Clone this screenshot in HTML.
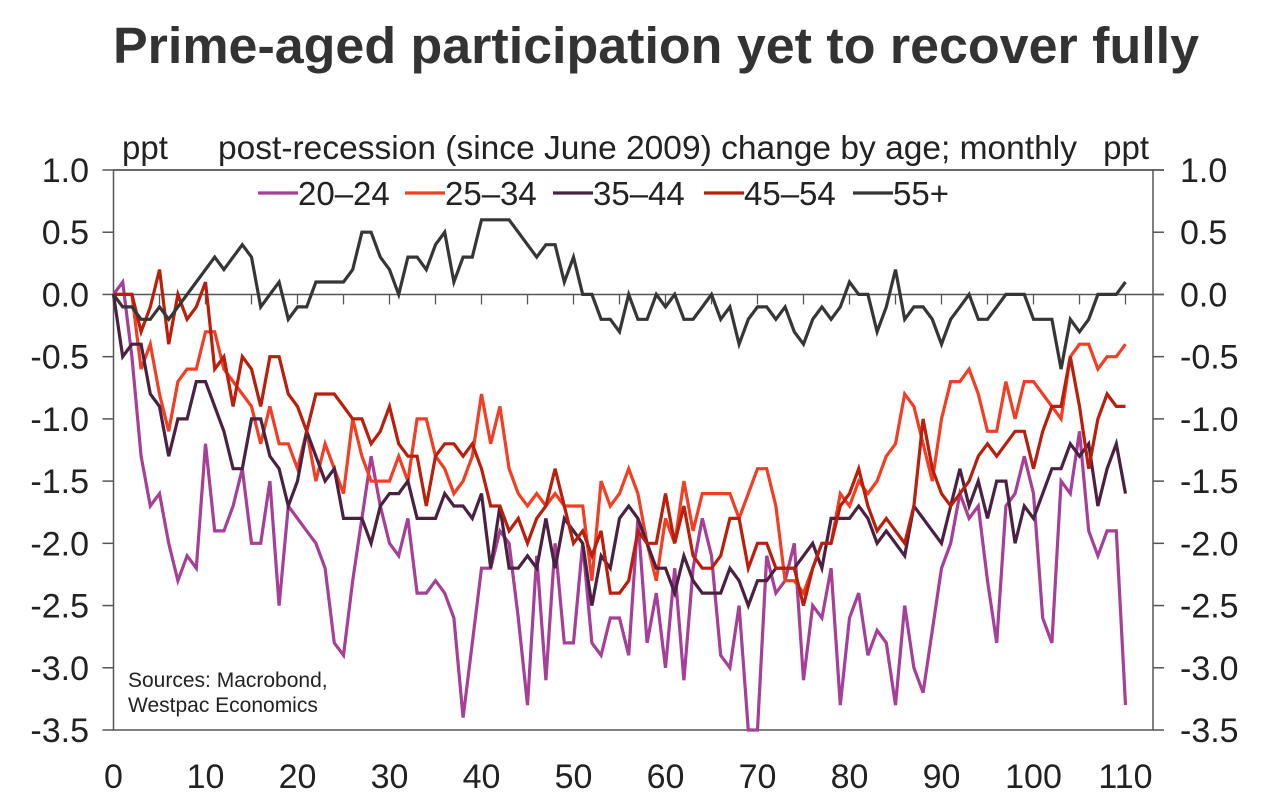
<!DOCTYPE html>
<html><head><meta charset="utf-8"><style>
body{margin:0;background:#fff;}
svg{display:block;font-family:"Liberation Sans",Arial,sans-serif;}
</style></head><body>
<svg id="chart" width="1266" height="803" viewBox="0 0 1266 803" xmlns="http://www.w3.org/2000/svg">
<text x="656" y="63" text-anchor="middle" font-size="51" font-weight="bold" fill="#333" textLength="1086" lengthAdjust="spacingAndGlyphs">Prime-aged participation yet to recover fully</text>
<text x="122" y="159" font-size="33" fill="#222">ppt</text>
<text x="218" y="159" font-size="33" fill="#222" textLength="859" lengthAdjust="spacingAndGlyphs">post-recession (since June 2009) change by age; monthly</text>
<text x="1149" y="159" text-anchor="end" font-size="33" fill="#222">ppt</text>
<g id="axes"></g>
<g id="series"></g>
<g id="legend"></g>
<text x="128" y="687" font-size="21" fill="#222">Sources: Macrobond,</text>
<text x="128" y="712" font-size="21" fill="#222">Westpac Economics</text>
</svg>
<script>
const months = Array.from({length:111},(_, i)=>i);
const yTicks = [1.0,0.5,0.0,-0.5,-1.0,-1.5,-2.0,-2.5,-3.0,-3.5];
const xTicks = [0,10,20,30,40,50,60,70,80,90,100,110];
const s2024 = [0,0.1,-0.5,-1.3,-1.7,-1.6,-2.0,-2.3,-2.1,-2.2,-1.2,-1.9,-1.9,-1.7,-1.4,-2.0,-2.0,-1.5,-2.5,-1.7,-1.8,-1.9,-2.0,-2.2,-2.8,-2.9,-2.3,-1.8,-1.3,-1.7,-2.0,-2.1,-1.8,-2.4,-2.4,-2.3,-2.4,-2.6,-3.4,-2.8,-2.2,-2.2,-1.9,-2.0,-2.6,-3.3,-2.1,-3.1,-2.0,-2.8,-2.8,-2.0,-2.8,-2.9,-2.6,-2.6,-2.9,-1.8,-2.8,-2.4,-3.0,-2.2,-3.1,-2.2,-1.8,-2.1,-2.9,-3.0,-2.5,-3.5,-3.5,-2.1,-2.4,-2.3,-2.0,-3.1,-2.5,-2.6,-2.2,-3.3,-2.6,-2.4,-2.9,-2.7,-2.8,-3.3,-2.5,-3.0,-3.2,-2.7,-2.2,-2.0,-1.6,-1.8,-1.7,-2.3,-2.8,-1.7,-1.6,-1.3,-1.6,-2.6,-2.8,-1.5,-1.6,-1.1,-1.9,-2.1,-1.9,-1.9,-3.3];
const s2534 = [0,0,0,-0.6,-0.4,-0.8,-1.1,-0.7,-0.6,-0.6,-0.3,-0.3,-0.6,-0.7,-0.8,-0.9,-1.2,-0.9,-1.2,-1.2,-1.4,-1.1,-1.5,-1.2,-1.4,-1.6,-1.0,-1.3,-1.5,-1.5,-1.5,-1.3,-1.5,-1.0,-1.0,-1.3,-1.4,-1.6,-1.5,-1.3,-0.8,-1.2,-0.9,-1.4,-1.6,-1.7,-1.6,-1.7,-1.6,-1.7,-1.7,-1.7,-2.3,-1.5,-1.7,-1.6,-1.4,-1.6,-2.0,-2.3,-1.8,-2.0,-1.5,-1.9,-1.6,-1.6,-1.6,-1.6,-1.8,-1.6,-1.4,-1.4,-1.7,-2.3,-2.3,-2.4,-2.2,-2.0,-2.0,-1.6,-1.7,-1.5,-1.6,-1.5,-1.3,-1.2,-0.8,-0.9,-1.2,-1.5,-1.0,-0.7,-0.7,-0.6,-0.8,-1.1,-1.1,-0.7,-1.0,-0.7,-0.7,-0.8,-0.9,-1.0,-0.5,-0.4,-0.4,-0.6,-0.5,-0.5,-0.4];
const s3544 = [0,-0.5,-0.4,-0.4,-0.8,-0.9,-1.3,-1.0,-1.0,-0.7,-0.7,-0.9,-1.1,-1.4,-1.4,-1.0,-1.0,-1.3,-1.4,-1.7,-1.5,-1.1,-1.3,-1.5,-1.4,-1.8,-1.8,-1.8,-2.0,-1.7,-1.6,-1.6,-1.5,-1.8,-1.8,-1.8,-1.6,-1.7,-1.7,-1.8,-1.6,-2.2,-1.7,-2.2,-2.2,-2.1,-2.2,-1.8,-2.2,-1.8,-1.9,-2.0,-2.5,-2.1,-2.2,-1.8,-1.7,-1.8,-2.0,-2.2,-2.2,-2.4,-2.1,-2.3,-2.4,-2.4,-2.4,-2.2,-2.3,-2.5,-2.3,-2.3,-2.2,-2.2,-2.2,-2.1,-2.0,-2.2,-1.8,-1.8,-1.8,-1.7,-1.8,-2.0,-1.9,-2.0,-2.1,-1.7,-1.8,-1.9,-2.0,-1.7,-1.4,-1.7,-1.5,-1.8,-1.5,-1.5,-2.0,-1.7,-1.8,-1.6,-1.4,-1.4,-1.2,-1.3,-1.2,-1.7,-1.4,-1.2,-1.6];
const s4554 = [0,0,0,-0.3,-0.1,0.2,-0.4,0,-0.2,-0.1,0.1,-0.6,-0.5,-0.9,-0.5,-0.6,-0.9,-0.5,-0.5,-0.8,-0.9,-1.1,-0.8,-0.8,-0.8,-0.9,-1.0,-1.0,-1.2,-1.1,-0.9,-1.2,-1.3,-1.3,-1.7,-1.3,-1.2,-1.2,-1.3,-1.2,-1.4,-1.7,-1.7,-1.9,-1.8,-2.0,-1.8,-1.7,-1.4,-1.7,-2.0,-1.9,-2.1,-1.9,-2.4,-2.4,-2.3,-1.9,-2.0,-2.0,-1.6,-2.0,-1.7,-2.1,-2.2,-2.2,-2.1,-1.8,-1.8,-2.2,-2.0,-2.0,-2.2,-2.2,-2.2,-2.5,-2.2,-2.0,-2.0,-1.7,-1.6,-1.4,-1.7,-1.9,-1.8,-1.9,-2.0,-1.7,-1.0,-1.4,-1.6,-1.7,-1.6,-1.5,-1.3,-1.2,-1.3,-1.2,-1.1,-1.1,-1.4,-1.1,-0.9,-0.9,-0.5,-0.9,-1.4,-1.0,-0.8,-0.9,-0.9];
const s55 = [0,-0.1,-0.1,-0.2,-0.2,-0.1,-0.2,-0.1,0,0.1,0.2,0.3,0.2,0.3,0.4,0.3,-0.1,0,0.1,-0.2,-0.1,-0.1,0.1,0.1,0.1,0.1,0.2,0.5,0.5,0.3,0.2,0,0.3,0.3,0.2,0.4,0.5,0.1,0.3,0.3,0.6,0.6,0.6,0.6,0.5,0.4,0.3,0.4,0.4,0.1,0.3,0,0,-0.2,-0.2,-0.3,0,-0.2,-0.2,0,-0.1,0,-0.2,-0.2,-0.1,0,-0.2,-0.1,-0.4,-0.2,-0.1,-0.1,-0.2,-0.1,-0.3,-0.4,-0.2,-0.1,-0.2,-0.1,0.1,0,0,-0.3,-0.1,0.2,-0.2,-0.1,-0.1,-0.2,-0.4,-0.2,-0.1,0,-0.2,-0.2,-0.1,0,0,0,-0.2,-0.2,-0.2,-0.6,-0.2,-0.3,-0.2,0,0,0,0.1];
const seriesNames = ["20–24","25–34","35–44","45–54","55+"];
const seriesColors = ["#a53f98","#f23e24","#4b2142","#b91f0c","#363636"];
const seriesData = [s2024,s2534,s3544,s4554,s55];

const L=113.5,R=1153,T=170,B=730;
const xs = m => L + m*9.2;
const ys = v => T + (1.0 - v)*(B-T)/4.5;
const NS="http://www.w3.org/2000/svg";
const ax=document.getElementById('axes');
function mk(tag,attrs,parent){const e=document.createElementNS(NS,tag);for(const k in attrs)e.setAttribute(k,attrs[k]);parent.appendChild(e);return e;}

const frameRect=mk('rect',{x:L,y:T,width:R-L,height:B-T,fill:'none',stroke:'#555','stroke-width':1.5},ax);


const topBorder=mk('line',{x1:L,x2:R+11,y1:T,y2:T,stroke:'#555','stroke-width':1.5},ax);


const zeroLine=mk('line',{x1:L,x2:R+11,y1:ys(0),y2:ys(0),stroke:'#555','stroke-width':1.5},ax);


for(let m=0;m<=110;m+=5){
  const t=mk('line',{x1:xs(m),x2:xs(m),y1:ys(0),y2:ys(0)+10,stroke:'#555','stroke-width':1.3},ax);
  
  
}
yTicks.forEach(v=>{
  const y=ys(v);
  const a=mk('line',{x1:L-11,x2:L,y1:y,y2:y,stroke:'#555','stroke-width':1.5},ax);
  
  
  const b=mk('line',{x1:R,x2:R+11,y1:y,y2:y,stroke:'#555','stroke-width':1.5},ax);
  
  
  const t1=mk('text',{x:89,y:y+12,'text-anchor':'end','font-size':34,fill:'#222'},ax);
  t1.textContent=v.toFixed(1);
  
  
  const t2=mk('text',{x:1180,y:y+12,'text-anchor':'start','font-size':34,fill:'#222'},ax);
  t2.textContent=v.toFixed(1);
  
  
});
xTicks.forEach(m=>{
  const t=mk('text',{x:xs(m),y:788,'text-anchor':'middle','font-size':34,fill:'#222'},ax);
  t.textContent=String(m);
  
  
});
const sg=document.getElementById('series');
seriesData.forEach((d,i)=>{
  const pts=d.map((v,k)=>xs(months[k]).toFixed(1)+','+ys(v).toFixed(1)).join(' ');
  const p=mk('polyline',{points:pts,fill:'none',stroke:seriesColors[i],'stroke-width':3.2,'stroke-linejoin':'miter'},sg);
  
  
});
const lg=document.getElementById('legend');
const lx=[258,405,553,704,853];
seriesNames.forEach((n,i)=>{
  const l=mk('line',{x1:lx[i],x2:lx[i]+40,y1:193,y2:193,stroke:seriesColors[i],'stroke-width':3.2},lg);
  
  
  const t=mk('text',{x:lx[i]+40,y:205,'font-size':33,fill:'#222'},lg);
  t.textContent=n;
  
  
});
</script>
</body></html>
